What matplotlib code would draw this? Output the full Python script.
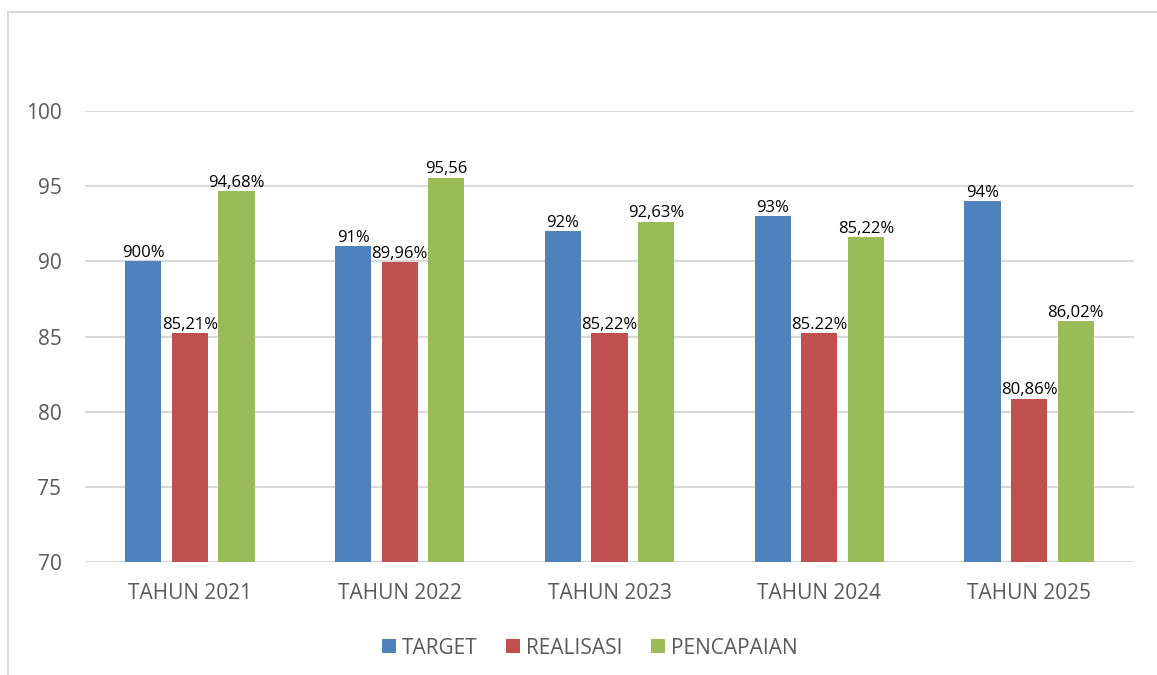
#!/usr/bin/env python

import matplotlib.pyplot as pyplot
import matplotlib.patches as patches
import numpy as np

categories = ['TAHUN 2021', 'TAHUN 2022', 'TAHUN 2023', 'TAHUN 2024', 'TAHUN 2025']
series_names = ['TARGET', 'REALISASI', 'PENCAPAIAN']

target = [90, 91, 92, 93, 94]
realisasi = [85.21, 89.96, 85.22, 85.22, 80.86]
pencapaian = [94.68, 95.56, 92.63, 91.6, 86.02]

# labels as they appear on the source chart (not always matching the bar)
target_labels = ['900%', '91%', '92%', '93%', '94%']
realisasi_labels = ['85,21%', '89,96%', '85,22%', '85.22%', '80,86%']
pencapaian_labels = ['94,68%', '95,56', '92,63%', '85,22%', '86,02%']

colors = ['#4F81BD', '#C0504D', '#9BBB59']
font = 'Open Sans'

fig = pyplot.figure(figsize=(11.57, 6.75), dpi=100)
ax = fig.add_axes([85 / 1157, 1 - 562 / 675, (1134 - 85) / 1157, (562 - 111) / 675])

# outer chart frame
fig.patches.append(patches.Rectangle((8 / 1157, -0.05), 1.1, 1 - 12 / 675 + 0.05,
                                     transform=fig.transFigure, fill=False,
                                     edgecolor='#d9d9d9', linewidth=1.5))

x = np.arange(len(categories))
width = 0.172
step = 0.222
data = [target, realisasi, pencapaian]
labels = [target_labels, realisasi_labels, pencapaian_labels]

for i in range(3):
  pos = x + (i - 1) * step
  ax.bar(pos, np.array(data[i]) - 70, width=width, bottom=70,
         color=colors[i], label=series_names[i], zorder=3)
  for b, val, lab in zip(pos, data[i], labels[i]):
    ax.text(b, val + 0.02, lab, ha='center', va='bottom', fontsize=12,
            family=font, color='black', zorder=4)

ax.set_xlim(-0.5, len(categories) - 0.5)
ax.set_ylim(70, 100)
ax.set_yticks(range(70, 101, 5))
ax.set_xticks(x)
ax.set_xticklabels(categories)
ax.grid(axis='y', color='#d9d9d9', linewidth=1.5, zorder=0)
ax.set_axisbelow(True)
for s in ax.spines.values():
  s.set_visible(False)
ax.tick_params(axis='both', length=0, labelsize=15, labelcolor='#595959')
ax.tick_params(axis='y', pad=17)
ax.tick_params(axis='x', pad=15)
for t in ax.get_xticklabels() + ax.get_yticklabels():
  t.set_family(font)

ax.legend(loc='center', bbox_to_anchor=(505 / 1049, -(648 - 562) / 451), ncol=3,
          frameon=False, prop={'family': font, 'size': 15}, labelcolor='#595959',
          handlelength=0.67, handleheight=0.67, handletextpad=0.3, columnspacing=1.35)

pyplot.savefig('out.png', dpi=100)
